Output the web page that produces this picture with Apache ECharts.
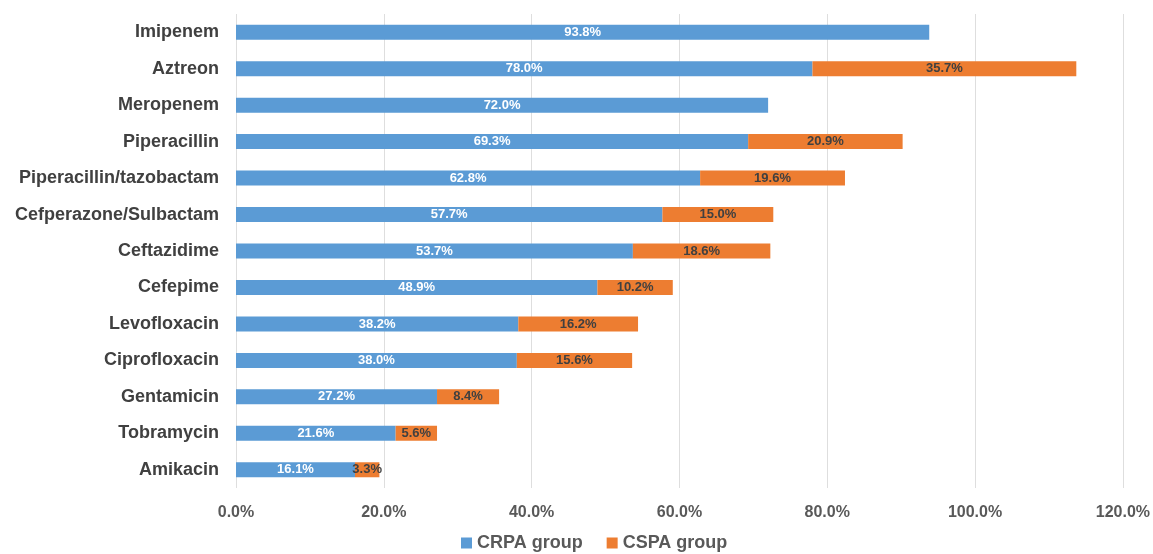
<!DOCTYPE html>
<html>
<head>
<meta charset="utf-8">
<script src="https://cdn.jsdelivr.net/npm/echarts@6/dist/echarts.min.js"></script>
<style>
  html, body { margin: 0; padding: 0; background: #fff; }
  #chart { width: 1153px; height: 554px; }
</style>
</head>
<body>
<div id="chart"></div>
<script>
const drugs = ['Imipenem', 'Aztreon', 'Meropenem', 'Piperacillin', 'Piperacillin/tazobactam',
  'Cefperazone/Sulbactam', 'Ceftazidime', 'Cefepime', 'Levofloxacin', 'Ciprofloxacin',
  'Gentamicin', 'Tobramycin', 'Amikacin']
const crpa = [93.8, 78.0, 72.0, 69.3, 62.8, 57.7, 53.7, 48.9, 38.2, 38.0, 27.2, 21.6, 16.1]
// no CSPA bar for imipenem / meropenem
const cspa = ['-', 35.7, '-', 20.9, 19.6, 15.0, 18.6, 10.2, 16.2, 15.6, 8.4, 5.6, 3.3]
const xTicks = { min: 0, max: 120, interval: 20 }

const chart = echarts.init(document.getElementById('chart'))

const fontFam = '"Liberation Sans", Arial, sans-serif'

const option = {
  color: ['#5B9BD5', '#ED7D31'],
  textStyle: { fontFamily: fontFam },
  grid: {
    left: 236,
    right: 29,
    top: 14,
    bottom: 66
  },
  legend: {
    bottom: -3,
    left: 456,
    icon: 'rect',
    itemWidth: 11,
    itemHeight: 11,
    itemGap: 24,
    textStyle: { fontSize: 18, fontWeight: 'bold', color: '#595959', fontFamily: fontFam },
    data: ['CRPA group', 'CSPA group']
  },
  xAxis: {
    type: 'value',
    min: xTicks.min,
    max: xTicks.max,
    interval: xTicks.interval,
    axisLine: { show: false },
    axisTick: { show: false },
    splitLine: { lineStyle: { color: '#DEDEDE', width: 1 } },
    axisLabel: {
      margin: 17,
      fontSize: 16,
      fontWeight: 'bold',
      color: '#595959',
      formatter: v => v.toFixed(1) + '%'
    }
  },
  yAxis: {
    type: 'category',
    data: drugs,
    inverse: true,
    axisLine: { show: false },
    axisTick: { show: false },
    axisLabel: {
      margin: 17,
      fontSize: 18,
      fontWeight: 'bold',
      color: '#404040'
    }
  },
  series: [
    {
      name: 'CRPA group',
      type: 'bar',
      stack: 'total',
      barWidth: 15,
      data: crpa,
      label: {
        show: true,
        position: 'inside',
        color: '#fff',
        fontSize: 13,
        fontWeight: 'bold',
        formatter: p => p.value.toFixed(1) + '%'
      }
    },
    {
      name: 'CSPA group',
      type: 'bar',
      stack: 'total',
      barWidth: 15,
      data: cspa,
      label: {
        show: true,
        position: 'inside',
        color: '#404040',
        fontSize: 13,
        fontWeight: 'bold',
        formatter: p => (typeof p.value === 'number' ? p.value.toFixed(1) + '%' : '')
      }
    }
  ]
}

chart.setOption(option)
</script>
</body>
</html>
